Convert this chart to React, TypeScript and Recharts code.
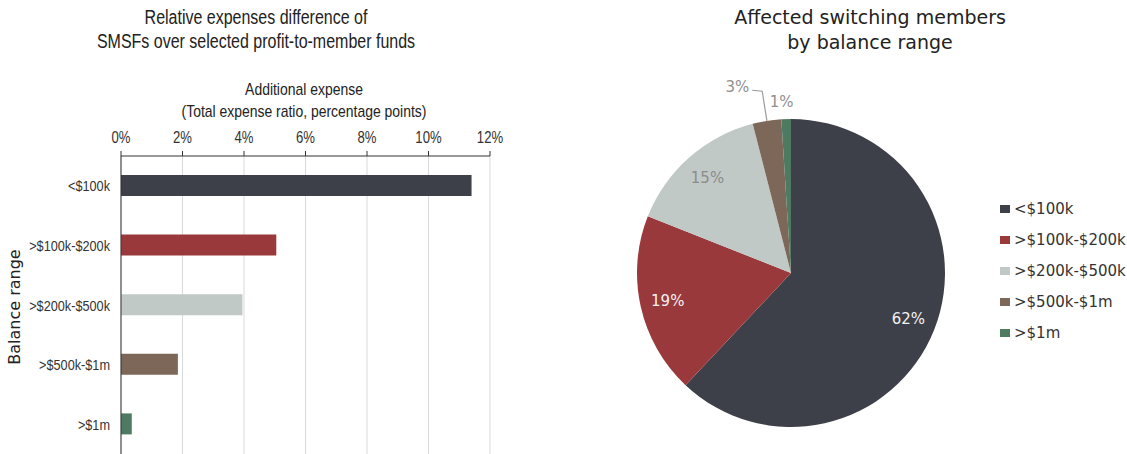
import { BarChart, Bar, XAxis, YAxis, CartesianGrid, Cell, PieChart, Pie, Legend } from 'recharts';

const categories = ['<$100k', '>$100k-$200k', '>$200k-$500k', '>$500k-$1m', '>$1m'];
const additionalExpense = [11.4, 5.05, 3.95, 1.85, 0.35];
const memberShare = [62, 19, 15, 3, 1];
const xTicks = [0, 2, 4, 6, 8, 10, 12];

const COLORS = ['#3e4049', '#9a393b', '#c1c9c7', '#7c6759', '#4e7a62'];
const ARIAL = "'Liberation Sans', Arial, sans-serif";
const WIDE = "'DejaVu Sans', sans-serif";
const SQUEEZE = 0.82; // left chart uses a narrow face
const RADIAN = Math.PI / 180;

const barData = categories.map((name, i) => ({ name, expense: additionalExpense[i] }));
const pieData = categories.map((name, i) => ({ name, value: memberShare[i] }));

function TopTick(props: any) {
  const { x, y, payload } = props;
  return (
    <g transform={`translate(${x},${y})`}>
      <text transform={`scale(${SQUEEZE},1)`} textAnchor="middle" fill="#333" style={{ fontFamily: ARIAL, fontSize: 16 }}>
        {`${payload.value}%`}
      </text>
    </g>
  );
}

function LeftTick(props: any) {
  const { x, y, payload } = props;
  return (
    <g transform={`translate(${x},${y})`}>
      <text transform={`scale(${SQUEEZE},1)`} textAnchor="end" dy="0.36em" fill="#333" style={{ fontFamily: ARIAL, fontSize: 15.5 }}>
        {payload.value}
      </text>
    </g>
  );
}

function renderPieLabel(props: any) {
  const { cx, cy, midAngle, outerRadius, index, value } = props;
  const cos = Math.cos(-midAngle * RADIAN);
  const sin = Math.sin(-midAngle * RADIAN);
  const style = { fontFamily: WIDE, fontSize: 15 };

  if (index < 3) {
    const r = outerRadius * 0.82;
    return (
      <text x={cx + r * cos} y={cy + r * sin} textAnchor="middle" dominantBaseline="central"
        fill={index === 2 ? '#8c8c8c' : '#f2f2f2'} style={style}>
        {`${value}%`}
      </text>
    );
  }
  if (index === 3) {
    const sx = cx + outerRadius * cos;
    const sy = cy + outerRadius * sin;
    const ex = cx + (outerRadius + 30) * cos;
    const ey = cy + (outerRadius + 30) * sin;
    return (
      <g>
        <polyline points={`${sx},${sy} ${ex},${ey} ${ex - 10},${ey - 1}`} fill="none" stroke="#9a9a9a" strokeWidth={1.2} />
        <text x={ex - 13} y={ey - 4} textAnchor="end" dominantBaseline="central" fill="#909090" style={style}>
          {`${value}%`}
        </text>
      </g>
    );
  }
  const r = outerRadius + 17;
  return (
    <text x={cx + r * cos - 4} y={cy + r * sin} textAnchor="middle" dominantBaseline="central" fill="#909090" style={style}>
      {`${value}%`}
    </text>
  );
}

function renderLegend() {
  return (
    <div style={{ fontFamily: WIDE, fontSize: 15, color: '#333' }}>
      {categories.map((name, i) => (
        <div key={name} style={{ display: 'flex', alignItems: 'center', height: 31 }}>
          <span style={{ display: 'inline-block', width: 10, height: 8, background: COLORS[i], marginRight: 4 }} />
          <span>{name}</span>
        </div>
      ))}
    </div>
  );
}

const squeezed = { transform: `scaleX(${SQUEEZE})`, transformOrigin: 'center' };

export default function App() {
  return (
    <div style={{ position: 'absolute', left: 0, top: 0, width: 1127, height: 454, background: '#fff', overflow: 'hidden' }}>
      <div style={{ position: 'absolute', left: 0, top: 5, width: 512, textAlign: 'center', fontFamily: ARIAL, fontSize: 19.5, lineHeight: '24px', color: '#222', ...squeezed }}>
        Relative expenses difference of<br />SMSFs over selected profit-to-member funds
      </div>
      <div style={{ position: 'absolute', left: 104, top: 79, width: 400, textAlign: 'center', fontFamily: ARIAL, fontSize: 17, lineHeight: '22px', color: '#222', ...squeezed }}>
        Additional expense<br />(Total expense ratio, percentage points)
      </div>
      <div style={{ position: 'absolute', left: 15 - 70, top: 307 - 10, width: 140, height: 20, lineHeight: '20px', textAlign: 'center', transform: 'rotate(-90deg)', fontFamily: WIDE, fontSize: 16, color: '#222' }}>
        Balance range
      </div>

      <div style={{ position: 'absolute', left: 0, top: 0 }}>
        <BarChart width={510} height={454} data={barData} layout="vertical" margin={{ top: 126, right: 20, bottom: 0, left: 0 }}>
          <CartesianGrid horizontal={false} stroke="#d9d9d9" />
          <XAxis type="number" orientation="top" height={30} domain={[0, 12]} ticks={xTicks}
            axisLine={{ stroke: '#333' }} tickLine={{ stroke: '#333' }}
            tickSize={5} tickMargin={8} tick={<TopTick />} />
          <YAxis type="category" dataKey="name" width={121} axisLine={{ stroke: '#333' }} tickLine={false}
            tickSize={5} tickMargin={6} tick={<LeftTick />} />
          <Bar dataKey="expense" barSize={21} isAnimationActive={false}>
            {barData.map((entry, i) => (
              <Cell key={entry.name} fill={COLORS[i]} />
            ))}
          </Bar>
        </BarChart>
      </div>

      <div style={{ position: 'absolute', left: 600, top: 5, width: 540, textAlign: 'center', fontFamily: WIDE, fontSize: 19, lineHeight: '25px', color: '#222' }}>
        Affected switching members<br />by balance range
      </div>

      <div style={{ position: 'absolute', left: 560, top: 0 }}>
        <PieChart width={567} height={454} margin={{ top: 0, right: 0, bottom: 0, left: 0 }}>
          <Pie data={pieData} dataKey="value" nameKey="name" cx={231} cy={273} outerRadius={154}
            startAngle={90} endAngle={-270} stroke="none" labelLine={false} label={renderPieLabel}
            isAnimationActive={false}>
            {pieData.map((entry, i) => (
              <Cell key={entry.name} fill={COLORS[i]} />
            ))}
          </Pie>
          <Legend content={renderLegend} wrapperStyle={{ left: 440, top: 193.5, width: 130, bottom: 'auto', right: 'auto' }} />
        </PieChart>
      </div>
    </div>
  );
}
